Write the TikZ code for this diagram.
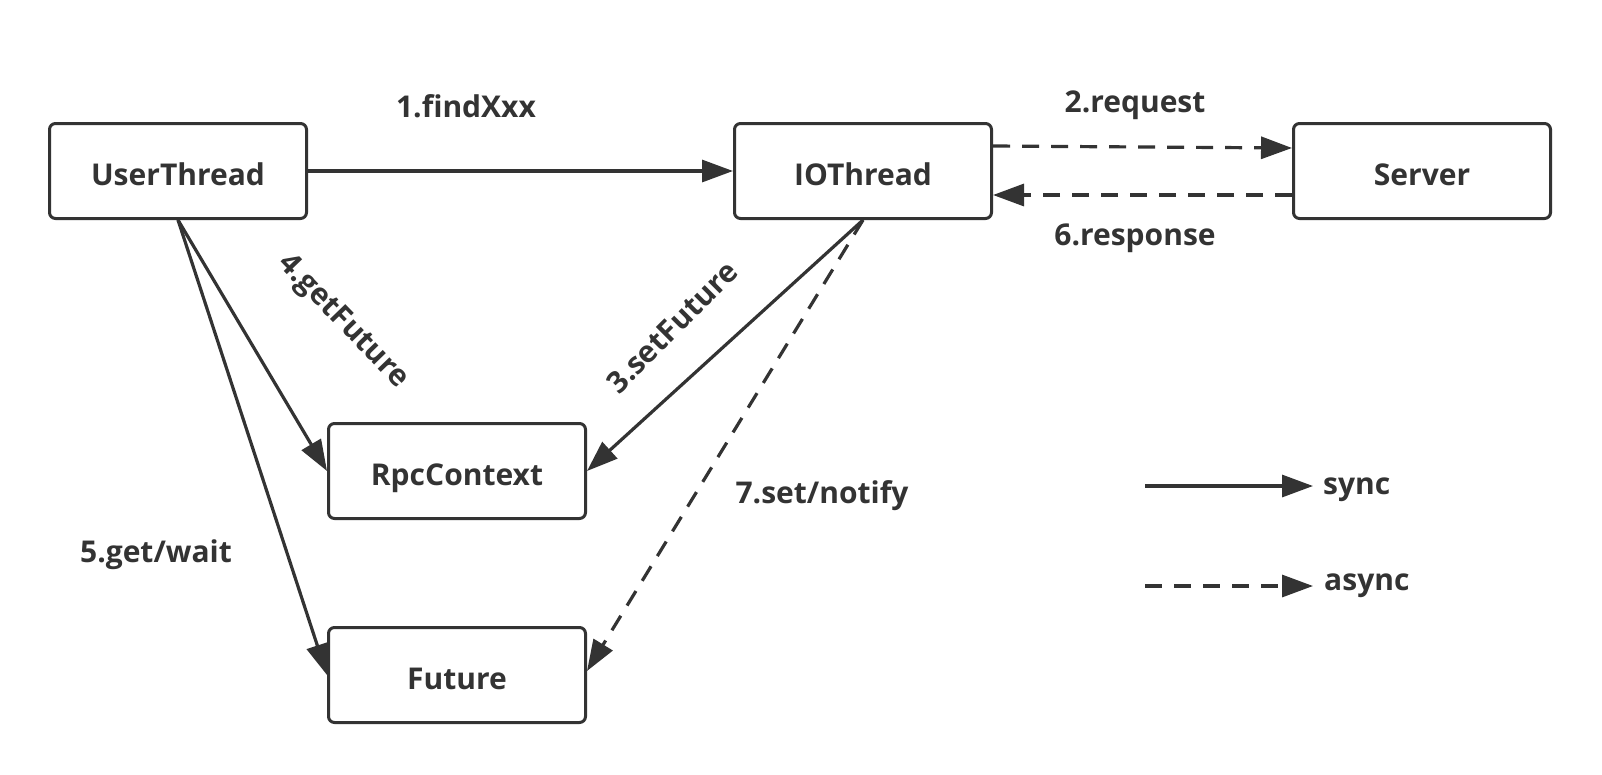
\documentclass[tikz,border=0pt]{standalone}
\usepackage{fontspec}
\setmainfont{Open Sans}
\usetikzlibrary{arrows.meta}
\definecolor{ink}{HTML}{333333}
\begin{document}
\begin{tikzpicture}[x=1pt,y=-1pt,
  box/.style={draw=ink,line width=3pt,rounded corners=6pt,minimum width=257pt,minimum height=95pt,inner sep=0pt,
    font=\fontsize{30}{34}\selectfont\bfseries,text=ink,text height=28.5pt,text depth=0pt},
  lbl/.style={font=\fontsize{30}{34}\selectfont\bfseries,text=ink,inner sep=0pt},
  conn/.style={draw=ink,line width=3.2pt,-{Triangle[length=31pt,width=22pt]}},
  dconn/.style={conn,dash pattern=on 17pt off 12pt}]
\useasboundingbox (0,0) rectangle (1602,774);
\node[box] (ut) at (178,171) {UserThread};
\node[box] (io) at (863,171) {IOThread};
\node[box] (sv) at (1422,171) {Server};
\node[box] (rc) at (457,471) {RpcContext};
\node[box] (fu) at (457,675) {Future};
\draw[conn] (ut.east) -- (io.west);
\draw[dconn] ([yshift=25pt]io.east) -- ([yshift=23pt]sv.west);
\draw[dconn] ([yshift=-24pt]sv.west) -- ([yshift=-24pt]io.east);
\draw[conn] (io.south) -- (rc.east);
\draw[dconn] (io.south) -- ([yshift=4pt]fu.east);
\draw[conn] (ut.south) -- (rc.west);
\draw[conn] (ut.south) -- (fu.west);
\node[lbl] (l1) at (466,106) {1.findXxx};
\node[lbl] (l2) at (1135,105) {2.request};
\node[lbl] (l6) at (1135,238) {6.response};
\node[lbl,rotate=-46] (l4) at (343,322) {4.getFuture};
\node[lbl,rotate=45] (l3) at (672,327) {3.setFuture};
\node[lbl] (l7) at (822,496) {7.set/notify};
\node[lbl] (l5) at (156,555) {5.get/wait};
\coordinate (sa) at (1145,486);
\node[lbl,anchor=west] (sync) at (1323,490) {sync};
\draw[conn] (sa) -- (1313,486);
\coordinate (aa) at (1145,586);
\node[lbl,anchor=west] (async) at (1324,586) {async};
\draw[dconn] (aa) -- (1313,586);
\end{tikzpicture}
\end{document}
